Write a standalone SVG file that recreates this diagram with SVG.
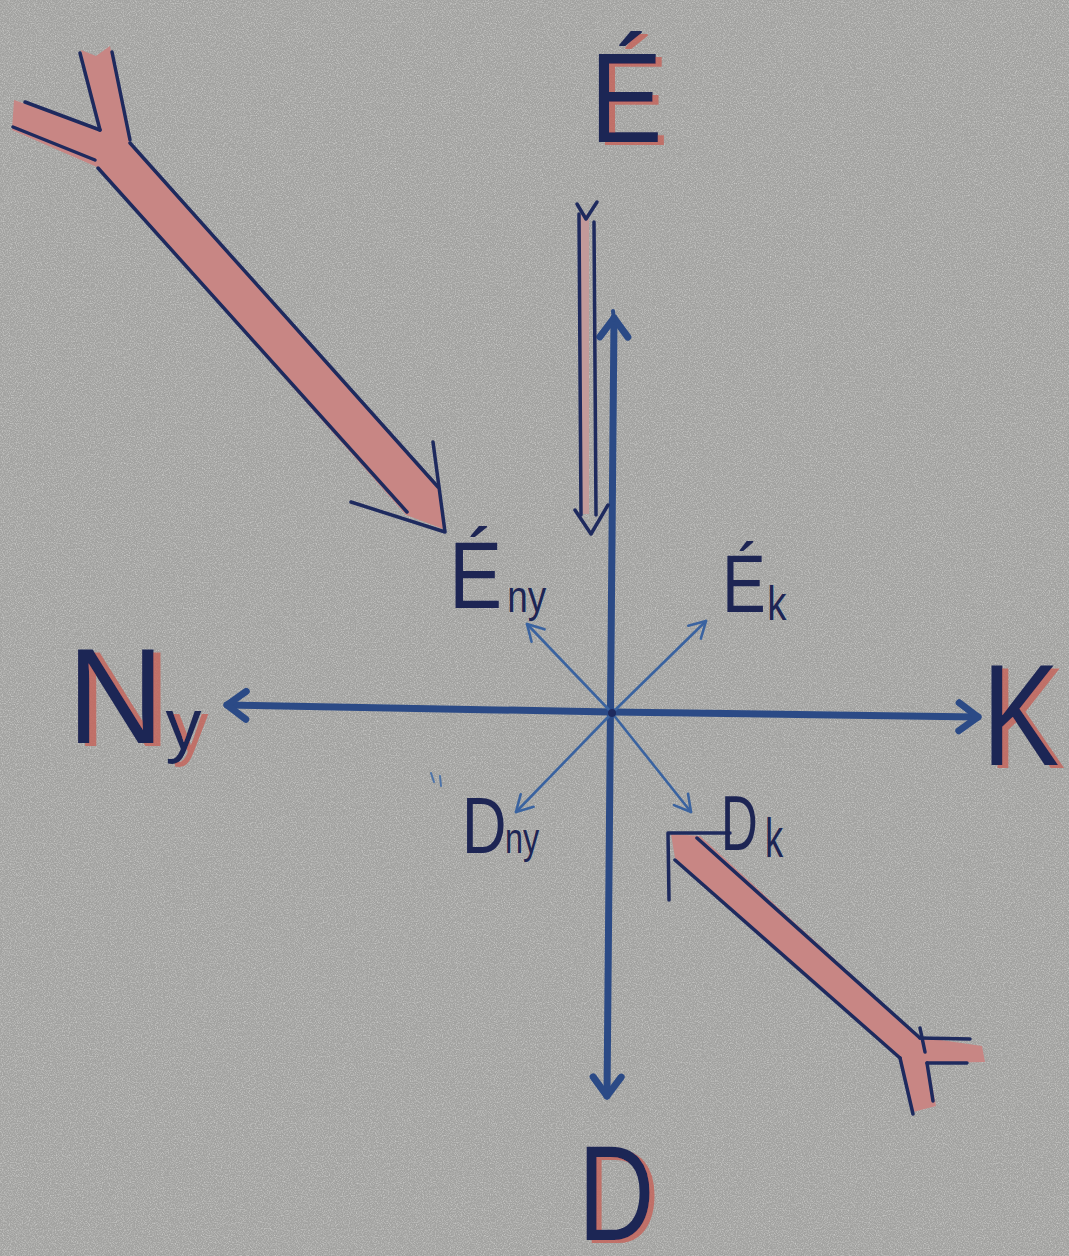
<svg xmlns="http://www.w3.org/2000/svg" width="1069" height="1256" viewBox="0 0 1069 1256">
  <defs>
    <filter id="noise" x="0" y="0" width="100%" height="100%">
      <feTurbulence type="fractalNoise" baseFrequency="0.85" numOctaves="2" seed="7" result="t"/>
      <feColorMatrix in="t" type="matrix" values="0 0 0 0 1  0 0 0 0 1  0 0 0 0 0.98  0.9 0 0 0 -0.38"/>
    </filter>
    <filter id="redShadow" x="-20%" y="-20%" width="150%" height="150%">
      <feOffset in="SourceAlpha" dx="7" dy="3" result="o"/>
      <feFlood flood-color="#c4665d" flood-opacity="0.85"/>
      <feComposite in2="o" operator="in" result="s"/>
      <feMerge><feMergeNode in="s"/><feMergeNode in="SourceGraphic"/></feMerge>
    </filter>
    <marker id="thinHead" markerUnits="userSpaceOnUse" markerWidth="26" markerHeight="26" viewBox="0 0 26 26" refX="22" refY="13" orient="auto" overflow="visible">
      <path d="M6,4 L22,13 L6,22" fill="none" stroke="#3a63a0" stroke-width="2.6" stroke-linecap="round" stroke-linejoin="round"/>
    </marker>
    <marker id="axisHead" markerUnits="userSpaceOnUse" markerWidth="34" markerHeight="34" viewBox="0 0 34 34" refX="28" refY="17" orient="auto-start-reverse" overflow="visible">
      <path d="M9,3 L28,17 L9,31" fill="none" stroke="#2b4a86" stroke-width="7" stroke-linecap="round" stroke-linejoin="round"/>
    </marker>
    <style>
      .big { font-family: "Liberation Sans", Arial, sans-serif; fill: #1d2554; filter: url(#redShadow); }
      .small { font-family: "Liberation Sans", Arial, sans-serif; fill: #1d2554; }
      .pink { fill: #c88684; }
      .ink { fill: none; stroke: #1e2a5e; stroke-width: 3.5; stroke-linecap: round; stroke-linejoin: round; }
      .axis { fill: none; stroke: #2b4a86; stroke-width: 7; stroke-linecap: round; }
      .thin { fill: none; stroke: #3a63a0; stroke-width: 2.6; stroke-linecap: round; }
    </style>
  </defs>

  <!-- paper -->
  <rect width="1069" height="1256" fill="#a2a2a0"/>
  <rect width="1069" height="1256" filter="url(#noise)"/>

  <!-- connectors -->
  <g id="connectors">
    <!-- main axes -->
    <path class="axis" d="M614,318 L607,1096" marker-start="url(#axisHead)" marker-end="url(#axisHead)"/>
    <path class="axis" d="M227,705 L612,712 L978,717" marker-start="url(#axisHead)" marker-end="url(#axisHead)"/>
    <line x1="613" y1="311" x2="614" y2="320" stroke="#2b4a86" stroke-width="4" stroke-linecap="round"/>
    <!-- diagonal arrows -->
    <line class="thin" x1="612" y1="713" x2="706" y2="621" marker-end="url(#thinHead)"/>
    <line class="thin" x1="612" y1="713" x2="527" y2="624" marker-end="url(#thinHead)"/>
    <line class="thin" x1="612" y1="713" x2="516" y2="812" marker-end="url(#thinHead)"/>
    <line class="thin" x1="612" y1="713" x2="691" y2="812" marker-end="url(#thinHead)"/>
    <circle cx="612" cy="713" r="4" fill="#1e2a5e"/>

    <!-- top-left big red arrow -->
    <g id="arrow-nw">
      <polygon class="pink" points="14,100 100,129 81,50 96,56 110,46 130,142 440,488 446,530 406,515 97,167 12,130"/>
      <line class="ink" x1="80" y1="53" x2="100" y2="130"/>
      <line class="ink" x1="112" y1="52" x2="130" y2="140"/>
      <line class="ink" x1="25" y1="102" x2="100" y2="130"/>
      <line class="ink" x1="13" y1="127" x2="95" y2="160"/>
      <line class="ink" x1="130" y1="143" x2="438" y2="487"/>
      <line class="ink" x1="98" y1="168" x2="407" y2="512" stroke="#2a3f78"/>
      <polyline class="ink" points="433,442 445,532 351,502"/>
    </g>

    <!-- thin vertical down arrow -->
    <g id="arrow-n">
      <rect x="580" y="214" width="9" height="300" fill="#c29a9a"/>
      <line class="ink" x1="579" y1="214" x2="581" y2="515" stroke-width="3"/>
      <line class="ink" x1="594" y1="222" x2="596" y2="515" stroke-width="3" stroke="#2c5590"/>
      <polyline class="ink" points="577,204 586,219 597,202" stroke-width="3.5"/>
      <polyline class="ink" points="575,510 591,534 608,505" stroke-width="3.5"/>
    </g>

    <!-- bottom-right red arrow -->
    <g id="arrow-se">
      <polygon class="pink" points="671,834 700,836 920,1037 982,1046 985,1062 928,1063 936,1106 913,1112 900,1058 675,858"/>
      <polyline class="ink" points="669,900 668,833 730,833"/>
      <line class="ink" x1="697" y1="838" x2="920" y2="1038"/>
      <line class="ink" x1="675" y1="860" x2="900" y2="1058" stroke="#2c4f8a"/>
      <line class="ink" x1="920" y1="1038" x2="970" y2="1039"/>
      <line class="ink" x1="927" y1="1063" x2="967" y2="1063"/>
      <line class="ink" x1="900" y1="1058" x2="913" y2="1114"/>
      <line class="ink" x1="927" y1="1063" x2="933" y2="1101"/>
      <line class="ink" x1="920" y1="1028" x2="925" y2="1052" stroke-width="2" stroke="#3a63a0"/>
    </g>

    <!-- stray marks -->
    <line x1="431" y1="773" x2="434" y2="782" stroke="#4d73a8" stroke-width="2" stroke-linecap="round"/>
    <line x1="440" y1="776" x2="441" y2="786" stroke="#4d73a8" stroke-width="2" stroke-linecap="round"/>
  </g>

  <!-- labels -->
  <g id="label-E">
    <text class="big" transform="translate(590,142) scale(0.85,1)" font-size="128">É</text>
  </g>
  <g id="label-Ny">
    <text class="big" x="67" y="743" font-size="135">N<tspan font-size="72" dx="1" dy="6">y</tspan></text>
  </g>
  <g id="label-K">
    <text class="big" transform="translate(982,765) scale(0.8,1)" font-size="145">K</text>
  </g>
  <g id="label-D">
    <text class="big" transform="translate(578,1240) scale(0.78,1)" font-size="136">D</text>
  </g>
  <g id="label-Eny">
    <text class="small" transform="translate(449,608) scale(0.84,1)" font-size="95">É<tspan font-size="44" dx="6" dy="4">ny</tspan></text>
  </g>
  <g id="label-Ek">
    <text class="small" transform="translate(722,612) scale(0.8,1)" font-size="82">É<tspan font-size="48" dx="2" dy="8">k</tspan></text>
  </g>
  <g id="label-Dny">
    <text class="small" transform="translate(462,853) scale(0.77,1)" font-size="80">D<tspan font-size="42" dx="-2">ny</tspan></text>
  </g>
  <g id="label-Dk">
    <text class="small" transform="translate(721,850) scale(0.66,1)" font-size="77">D<tspan font-size="55" dx="11" dy="7">k</tspan></text>
  </g>
</svg>
